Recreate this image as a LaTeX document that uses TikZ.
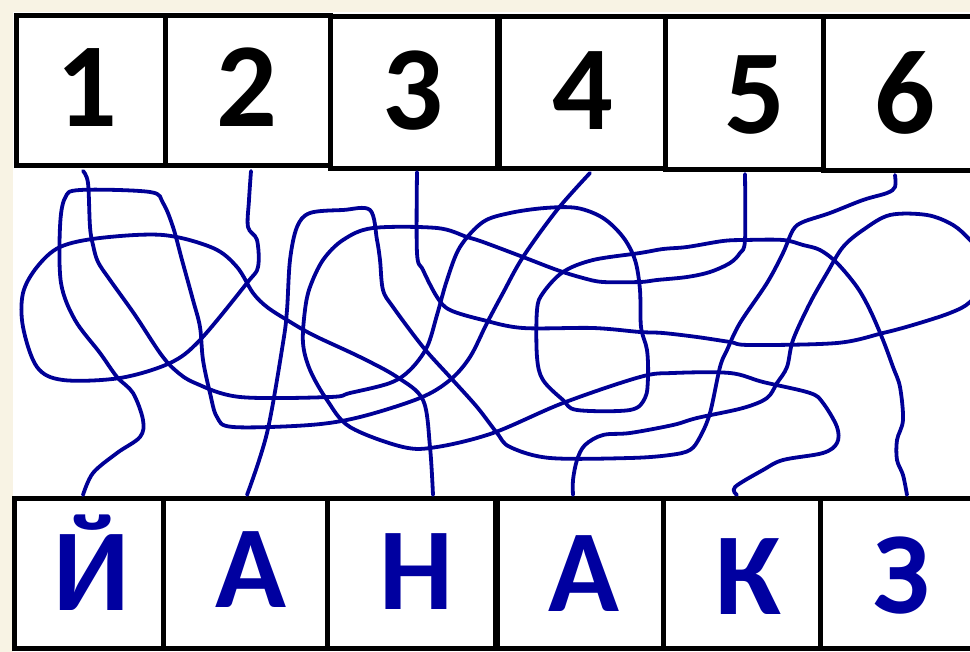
\documentclass[tikz,border=0pt]{standalone}
\usepackage{fontspec}
\setmainfont{Carlito}
\definecolor{cream}{RGB}{248,243,228}
\definecolor{letterblue}{RGB}{0,0,160}
\definecolor{lineblue}{RGB}{0,0,150}
\begin{document}
\begin{tikzpicture}[x=1pt,y=-1pt,
  box/.style={draw=black,line width=5pt,fill=white,rectangle,inner sep=0pt,minimum height=150pt},
  digit/.style={anchor=base,inner sep=0pt,font=\fontsize{120}{120}\selectfont\bfseries,text=black},
  letter/.style={anchor=base,inner sep=0pt,font=\fontsize{117}{117}\selectfont\bfseries,text=letterblue},
  wire/.style={draw=lineblue,line width=3.8pt,line cap=round,line join=round}]
\useasboundingbox (0,0) rectangle (970,652);
\fill[cream] (0,0) rectangle (970,652);
\fill[white] (13,12) rectangle (975,660);
% top boxes
\node[box,minimum width=149pt] (b1) at (90.5,91) {};
\node[box,minimum width=165pt] (b2) at (247.5,91) {};
\node[box,minimum width=167pt,minimum height=152pt] (b3) at (413.5,93) {};
\node[box,minimum width=166pt,minimum height=152pt] (b4) at (582,93) {};
\node[box,minimum width=158pt,minimum height=153pt] (b5) at (744,93.5) {};
\node[box,minimum width=157pt,minimum height=154pt] (b6) at (901.5,94) {};
% bottom boxes
\node[box,minimum width=149pt] (c1) at (88.5,573) {};
\node[box,minimum width=164pt] (c2) at (245,573) {};
\node[box,minimum width=168pt] (c3) at (411,573) {};
\node[box,minimum width=166pt] (c4) at (580,573) {};
\node[box,minimum width=157pt] (c5) at (741.5,573) {};
\node[box,minimum width=160pt] (c6) at (900,573) {};
% digits
\node[digit] (d1) at (87,127) {1};
\node[digit] (d2) at (247,127) {2};
\node[digit] (d3) at (413,130) {3};
\node[digit] (d4) at (583,130) {4};
\node[digit] (d5) at (755,134) {5};
\node[digit] (d6) at (905,134) {6};
% letters
\node[letter] (l1) at (92,610) {Й};
\node[letter] (l2) at (251,607) {А};
\node[letter] (l3) at (416,609) {Н};
\node[letter] (l4) at (584,611) {А};
\node[letter] (l5) at (748,614) {К};
\node[letter] (l6) at (902,613) {З};
% attach points
\coordinate (t1) at (83,171);
\coordinate (t2) at (251,171);
\coordinate (t3) at (417,172);
\coordinate (t4) at (590,173);
\coordinate (t5) at (745,174);
\coordinate (t6) at (895,175);
\coordinate (u1) at (83,495);
\coordinate (u2) at (247,495);
\coordinate (u3) at (433,495);
\coordinate (u4) at (573,495);
\coordinate (u5) at (737,495);
\coordinate (u6) at (907,495);
% line 1 -> З
\draw[wire] plot[smooth,tension=0.55] coordinates {(t1) (88,183) (90,227) (93,245) (98,262) (110,280) (135,315) (160,353) (175,370) (195,383) (240,397) (330,397) (350,393) (390,383) (410,370) (427,347) (437,315) (447,280) (460,247) (483,222) (510,213) (545,208) (577,208) (603,218) (623,237) (635,260) (640,290) (641,327) (647,350) (648,377) (645,398) (630,410) (577,410) (563,400) (543,380) (537,357) (537,310) (543,293) (563,272) (593,260) (640,253) (663,249) (687,247) (723,241) (745,240) (783,240) (803,245) (820,250) (837,263) (857,287) (870,310) (883,340) (893,367) (900,387) (903,420) (897,440) (897,460) (903,475) (u6)};
% line 2 -> Н
\draw[wire] plot[smooth,tension=0.55] coordinates {(t2) (249,200) (248,227) (257,240) (258,267) (247,283) (200,340) (170,363) (120,378) (63,380) (37,367) (23,327) (23,293) (37,267) (60,247) (100,238) (163,235) (213,248) (237,267) (253,293) (267,307) (287,320) (313,335) (360,357) (397,377) (423,400) (430,447) (u3)};
% line 3 -> А (second)
\draw[wire] plot[smooth,tension=0.55] coordinates {(t3) (417,253) (423,270) (437,297) (450,310) (483,320) (523,328) (593,328) (640,332) (663,333) (697,337) (730,342) (750,345) (837,343) (883,333) (913,325) (950,313) (970,302) (985,280) (985,258) (970,240) (953,225) (927,215) (890,215) (863,230) (843,247) (827,273) (810,303) (793,340) (787,367) (777,383) (767,398) (743,408) (697,418) (673,425) (630,433) (603,435) (585,445) (577,460) (573,480) (u4)};
% line 4 -> Й
\draw[wire] plot[smooth,tension=0.55] coordinates {(t4) (557,210) (523,257) (503,293) (487,323) (470,357) (450,380) (420,398) (360,417) (310,425) (233,427) (217,417) (210,393) (203,360) (200,327) (193,300) (182,260) (173,227) (163,203) (150,192) (80,190) (65,198) (60,227) (61,283) (75,320) (100,353) (117,377) (133,393) (143,420) (140,437) (117,453) (93,473) (u1)};
% line 5 -> К
\draw[wire] plot[smooth,tension=0.55] coordinates {(t5) (745,240) (740,253) (730,263) (710,272) (687,277) (657,280) (640,282) (603,282) (583,278) (557,270) (523,257) (483,242) (467,237) (437,228) (373,228) (343,240) (323,260) (310,287) (305,310) (303,343) (310,370) (327,400) (350,427) (403,447) (437,447) (493,433) (563,403) (640,377) (673,373) (730,373) (763,382) (810,393) (823,403) (837,427) (837,443) (823,453) (783,460) (763,470) (735,487) (u5)};
% line 6 -> А (first)
\draw[wire] plot[smooth,tension=0.55] coordinates {(t6) (895,187) (887,193) (863,200) (830,213) (803,222) (793,230) (783,253) (767,283) (740,323) (727,350) (720,367) (710,413) (700,437) (690,450) (670,455) (630,458) (550,458) (510,447) (497,433) (477,407) (450,377) (423,347) (393,307) (383,290) (380,260) (377,240) (370,210) (343,210) (310,213) (297,227) (290,260) (287,310) (283,343) (267,433) (u2)};
\end{tikzpicture}
\end{document}
